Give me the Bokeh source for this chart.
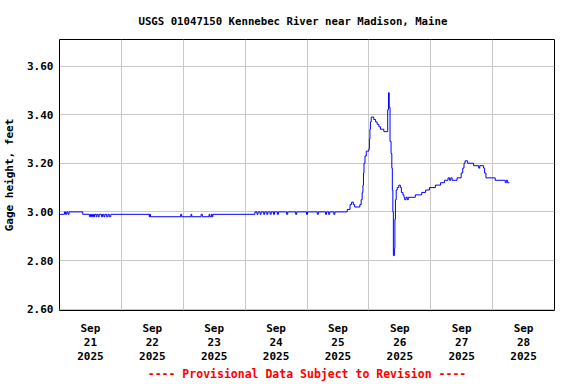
import pandas as pd
from bokeh.plotting import figure
from bokeh.models import FixedTicker, Range1d
from bokeh.embed import file_html
from bokeh.resources import INLINE

# ---- data ----
start = pd.Timestamp("2025-09-21 00:00")
# hours since 2025-09-21 00:00 at which the gage height changes (step "after")
hours_since_start = [
    0.0, 1.9, 2.3, 2.8, 3.3, 3.7, 9.0,
    11.6, 12.0, 12.4, 12.8, 13.2, 13.6, 14.2, 14.5, 15.0, 15.4, 16.3, 16.7,
    17.2, 17.6, 18.3, 18.8, 19.3, 19.9,
    34.8, 35.0, 35.3, 47.0, 47.4, 51.0, 51.3, 54.9, 55.4, 58.0, 58.3, 58.9, 59.2, 59.5,
    75.8, 76.6, 77.0, 77.8, 78.2, 79.2, 79.6, 80.4, 80.8, 81.7, 82.1, 83.0, 83.4,
    84.5, 84.9, 88.1, 88.5, 91.6, 92.0, 95.8, 96.2, 100.0, 100.4, 103.2, 103.6,
    104.4, 104.8, 106.4, 106.8,
    111.6, 112.7, 113.3, 114.0, 114.5, 116.5, 117.0, 117.4, 117.7, 117.9, 118.1,
    118.5, 119.0, 120.0, 120.2, 120.4, 120.6, 120.9, 121.9, 122.6, 123.2, 123.9,
    124.5, 125.8, 127.3, 127.6, 127.9, 128.2, 128.6, 128.9, 129.1, 129.3, 129.5,
    129.9, 130.1, 130.3, 130.6, 131.0, 131.6, 132.2, 132.6, 133.2, 133.6, 133.9,
    134.4, 134.9, 135.3, 138.0, 140.5, 142.0, 143.5, 145.8, 147.8, 149.3, 150.7,
    151.3, 151.8, 152.3, 154.2, 155.8, 156.4, 156.9, 157.3, 158.3, 160.6, 162.6,
    163.0, 164.5, 164.9, 165.4, 169.0, 172.9, 173.3, 173.8, 174.5,
]
gage_height_ft = [
    2.99, 3.00, 2.99, 3.00, 2.99, 3.00, 2.99,
    2.98, 2.99, 2.98, 2.99, 2.98, 2.99, 2.98, 2.99, 2.98, 2.99, 2.98, 2.99,
    2.98, 2.99, 2.98, 2.99, 2.98, 2.99,
    2.98, 2.99, 2.98, 2.99, 2.98, 2.99, 2.98, 2.99, 2.98, 2.99, 2.98, 2.99, 2.98, 2.99,
    3.00, 2.99, 3.00, 2.99, 3.00, 2.99, 3.00, 2.99, 3.00, 2.99, 3.00, 2.99, 3.00,
    2.99, 3.00, 2.99, 3.00, 2.99, 3.00, 2.99, 3.00, 2.99, 3.00, 2.99, 3.00,
    2.99, 3.00, 2.99, 3.00,
    3.01, 3.03, 3.04, 3.03, 3.02, 3.03, 3.05, 3.08, 3.11, 3.16, 3.20,
    3.23, 3.25, 3.26, 3.30, 3.34, 3.37, 3.39, 3.38, 3.37, 3.36, 3.35,
    3.34, 3.33, 3.42, 3.49, 3.43, 3.29, 3.24, 3.18, 3.09, 3.00, 2.82,
    2.85, 2.97, 3.05, 3.09, 3.10, 3.11, 3.10, 3.08, 3.07, 3.06, 3.05,
    3.06, 3.05, 3.06, 3.07, 3.08, 3.09, 3.10, 3.11, 3.12, 3.13, 3.14,
    3.13, 3.14, 3.13, 3.14, 3.16, 3.18, 3.20, 3.21, 3.20, 3.19, 3.18,
    3.19, 3.18, 3.16, 3.14, 3.13, 3.12, 3.13, 3.12, 3.12,
]
day_labels = ["Sep\n21\n2025", "Sep\n22\n2025", "Sep\n23\n2025", "Sep\n24\n2025",
              "Sep\n25\n2025", "Sep\n26\n2025", "Sep\n27\n2025", "Sep\n28\n2025"]
y_ticks = [2.60, 2.80, 3.00, 3.20, 3.40, 3.60]
y_tick_labels = ["2.60", "2.80", "3.00", "3.20", "3.40", "3.60"]
title_text = "USGS 01047150 Kennebec River near Madison, Maine"
footer_text = "---- Provisional Data Subject to Revision ----"
y_axis_title = "Gage height, feet"

# ---- derived ----
times = [start + pd.Timedelta(hours=h) for h in hours_since_start]

def ms(ts):
    return float(int(ts.value // 1_000_000))

noon_ticks = [ms(start + pd.Timedelta(hours=12 + 24 * i)) for i in range(len(day_labels))]
midnights = [ms(start + pd.Timedelta(days=i)) for i in range(len(day_labels) + 1)]

FONT = "DejaVu Sans Mono"

p = figure(
    width=576, height=384,
    x_axis_type="datetime",
    output_backend="svg", toolbar_location=None,
    min_border_left=58, min_border_right=22, min_border_top=39, min_border_bottom=68,
    background_fill_color="white", border_fill_color="white",
    title=title_text,
)
p.title.align = "left"
p.title.offset = 79
p.title.text_font = FONT
p.title.text_font_style = "bold"
p.title.text_font_size = "10.7px"
p.title.text_color = "black"
p.title.standoff = 23

p.x_range = Range1d(midnights[0], midnights[-1])
p.y_range = Range1d(2.5944, 3.709)

p.step(times, gage_height_ft, mode="after", line_color="#0000ff", line_width=1)

p.outline_line_color = "black"
p.outline_line_width = 1

# x axis
xa = p.xaxis[0]
xa.ticker = FixedTicker(ticks=noon_ticks)
xa.major_label_overrides = {t: lab for t, lab in zip(noon_ticks, day_labels)}
xa.axis_line_color = None
xa.major_tick_line_color = None
xa.minor_tick_line_color = None
xa.major_tick_out = 0
xa.major_label_text_font = FONT
xa.major_label_text_font_style = "bold"
xa.major_label_text_font_size = "11px"
xa.major_label_text_line_height = 1.1
xa.major_label_text_color = "black"
xa.major_label_standoff = 11
xa.axis_label = footer_text
xa.axis_label_text_font = FONT
xa.axis_label_text_font_style = "bold"
xa.axis_label_text_font_size = "11.5px"
xa.axis_label_text_color = "red"
xa.axis_label_standoff = 1

# y axis
ya = p.yaxis[0]
ya.ticker = FixedTicker(ticks=y_ticks)
ya.major_label_overrides = {t: lab for t, lab in zip(y_ticks, y_tick_labels)}
ya.axis_line_color = None
ya.major_tick_line_color = None
ya.minor_tick_line_color = None
ya.major_tick_out = 0
ya.major_label_text_font = FONT
ya.major_label_text_font_style = "bold"
ya.major_label_text_font_size = "11px"
ya.major_label_text_color = "black"
ya.major_label_standoff = 6
ya.axis_label = y_axis_title
ya.axis_label_text_font = FONT
ya.axis_label_text_font_style = "bold"
ya.axis_label_text_font_size = "11px"
ya.axis_label_text_color = "black"
ya.axis_label_standoff = 8

# grid
p.xgrid.ticker = FixedTicker(ticks=midnights)
p.xgrid.grid_line_color = "#c8c8c8"
p.ygrid.grid_line_color = "#c8c8c8"

open("out.html", "w").write(file_html(p, INLINE))
